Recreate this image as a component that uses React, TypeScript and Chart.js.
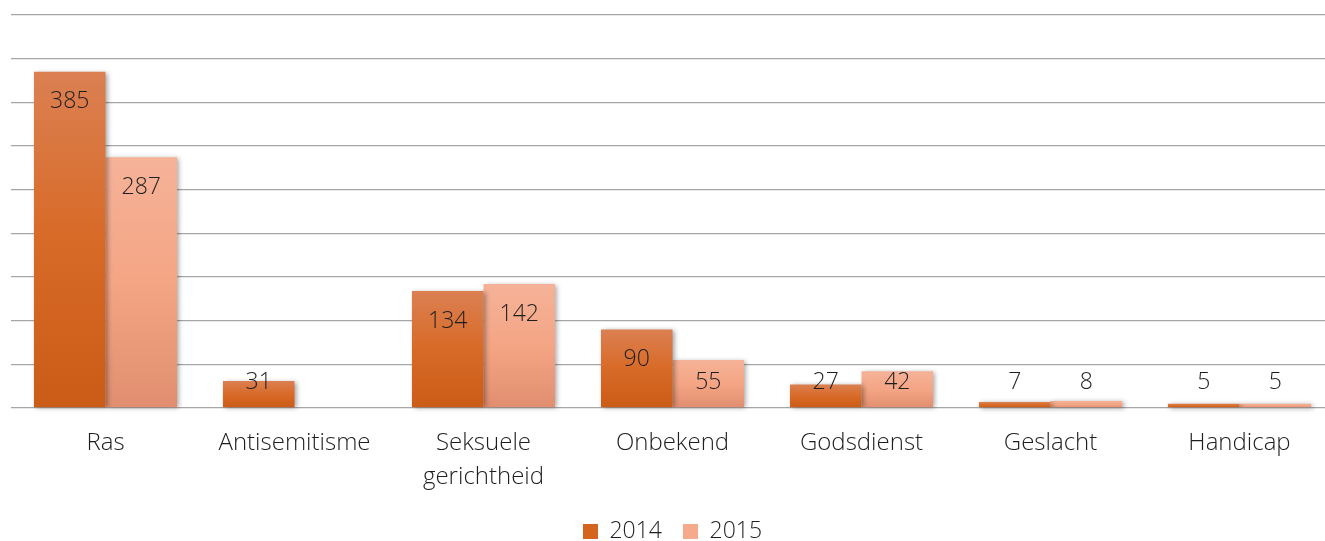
import React, { useEffect, useRef } from "react";
import { Chart, registerables } from "chart.js";

Chart.register(...registerables);

const categories: (string | string[])[] = [
  "Ras",
  "Antisemitisme",
  ["Seksuele", "gerichtheid"],
  "Onbekend",
  "Godsdienst",
  "Geslacht",
  "Handicap",
];
const series2014: (number | null)[] = [385, 31, 134, 90, 27, 7, 5];
const series2015: (number | null)[] = [287, null, 142, 55, 42, 8, 5];
const seriesLabels = ["2014", "2015"];
const yMax = 450;
const yStep = 50;

const FONT = "'Open Sans', 'DejaVu Sans', sans-serif";
const TEXT = "#1e1e1e";

const grad2014 = ["#DB8052", "#D86A27", "#CA5C17"];
const grad2015 = ["#F5B298", "#F4A584", "#E08E6F"];
const solid2014 = "#D4651F";
const solid2015 = "#F5AA8B";

function gradientFor(stops: string[], solid: string) {
  return (c: any) => {
    const chart = c.chart;
    if (!chart.chartArea || c.raw == null || !chart.scales?.y) return solid;
    const y = chart.scales.y;
    const top = y.getPixelForValue(c.raw);
    const bot = y.getPixelForValue(0);
    if (!isFinite(top) || !isFinite(bot) || bot - top < 1) return solid;
    const g = chart.ctx.createLinearGradient(0, top, 0, bot);
    g.addColorStop(0, stops[0]);
    g.addColorStop(0.5, stops[1]);
    g.addColorStop(1, stops[2]);
    return g;
  };
}

const shadowAndLabels = {
  id: "shadowAndLabels",
  beforeDatasetsDraw(chart: any) {
    const ctx = chart.ctx;
    ctx.save();
    ctx.shadowColor = "rgba(0,0,0,0.38)";
    ctx.shadowBlur = 5;
    ctx.shadowOffsetX = 2;
    ctx.shadowOffsetY = 1;
  },
  afterDatasetsDraw(chart: any) {
    const ctx = chart.ctx;
    ctx.restore();
    ctx.save();
    ctx.font = `300 23px ${FONT}`;
    ctx.fillStyle = TEXT;
    ctx.textAlign = "center";
    ctx.textBaseline = "middle";
    chart.data.datasets.forEach((ds: any, di: number) => {
      const meta = chart.getDatasetMeta(di);
      meta.data.forEach((bar: any, i: number) => {
        const v = ds.data[i];
        if (v == null) return;
        const y = Math.min(bar.y + 30, bar.base - 25);
        ctx.fillText(String(v), bar.x, y);
      });
    });
    ctx.restore();
  },
};

export default function App() {
  const ref = useRef<HTMLCanvasElement | null>(null);
  useEffect(() => {
    if (!ref.current) return;
    const chart = new Chart(ref.current, {
      type: "bar",
      data: {
        labels: categories,
        datasets: [
          {
            label: seriesLabels[0],
            data: series2014,
            backgroundColor: gradientFor(grad2014, solid2014),
            borderWidth: 0,
            clip: false as any,
          },
          {
            label: seriesLabels[1],
            data: series2015,
            backgroundColor: gradientFor(grad2015, solid2015),
            borderWidth: 0,
            clip: false as any,
          },
        ],
      },
      options: {
        animation: false,
        responsive: true,
        maintainAspectRatio: false,
        layout: { padding: { left: 11, right: 11, top: 15, bottom: 0 } },
        datasets: {
          bar: { categoryPercentage: 0.757, barPercentage: 1 },
        },
        plugins: {
          tooltip: { enabled: false },
          legend: {
            position: "bottom",
            labels: {
              boxWidth: 15,
              boxHeight: 15,
              padding: 21,
              color: TEXT,
              font: { family: FONT, size: 23, weight: 300 as any },
              generateLabels: (ch: any) =>
                ch.data.datasets.map((ds: any, i: number) => ({
                  text: ds.label,
                  fillStyle: i === 0 ? solid2014 : solid2015,
                  strokeStyle: i === 0 ? solid2014 : solid2015,
                  lineWidth: 0,
                  hidden: false,
                  datasetIndex: i,
                  fontColor: TEXT,
                })),
            },
          },
        },
        scales: {
          x: {
            grid: { display: false, drawTicks: false },
            border: { display: false },
            ticks: {
              padding: 18,
              color: TEXT,
              maxRotation: 0,
              autoSkip: false,
              font: { family: FONT, size: 24, weight: 300 as any, lineHeight: 34 / 24 },
            },
            afterFit: (s: any) => {
              s.height = 91;
            },
          },
          y: {
            min: 0,
            max: yMax,
            ticks: { stepSize: yStep, display: false },
            grid: { color: "#a6a6a6", lineWidth: 1.3, drawTicks: false },
            border: { display: false },
            afterFit: (s: any) => {
              s.width = 0;
            },
          },
        },
      },
      plugins: [shadowAndLabels],
    });
    return () => chart.destroy();
  }, []);

  return (
    <div
      style={{
        position: "fixed",
        left: 0,
        top: 0,
        width: 1325,
        height: 541,
        overflow: "hidden",
        background: "#fff",
      }}
    >
      <div style={{ width: 1345, height: 553, position: "relative" }}>
        <canvas ref={ref} />
      </div>
    </div>
  );
}
